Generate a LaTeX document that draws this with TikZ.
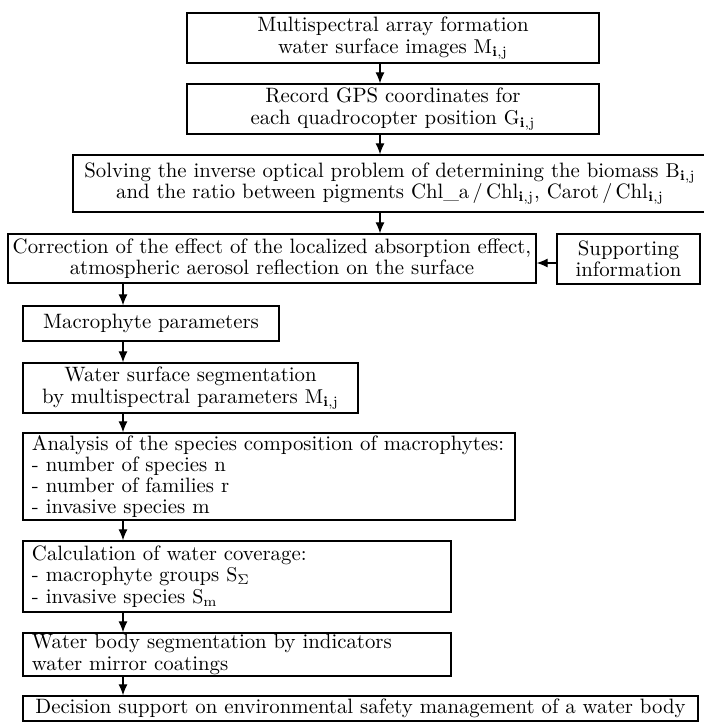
\documentclass[tikz,border=0pt]{standalone}
\usetikzlibrary{arrows.meta}

\tikzset{
  blk/.style={draw,line width=0.7pt,inner sep=0pt,align=center,
    font=\fontsize{10.4}{10.6}\selectfont},
  lblk/.style={blk,align=left,inner xsep=4.5pt},
  arr/.style={-{Latex[length=5.5pt,width=4.5pt]},line width=0.55pt}
}
\newcommand{\idxij}{_{\mathbf{i},\mathrm{j}}}

\begin{document}
\begin{tikzpicture}[x=0.5pt,y=-0.5pt]
\useasboundingbox (0,0) rectangle (704,723);
% arrow columns
\coordinate (colA) at (380,0);
\coordinate (colB) at (123,0);
% Blocks
\node[blk,minimum width=206pt,minimum height=25pt] (b1) at (393,38)
  {Multispectral array formation\\ water surface images $\mathrm{M}\idxij$};
\node[blk,minimum width=206pt,minimum height=25pt] (b2) at (393,109)
  {Record GPS coordinates for\\ each quadrocopter position $\mathrm{G}\idxij$};
\node[blk,minimum width=317pt,minimum height=28.5pt] (b3) at (390,183.5)
  {Solving the inverse optical problem of determining the biomass $\mathrm{B}\idxij$\\
   and the ratio between pigments Chl\_a$\,/\,$Chl$\idxij$, Carot$\,/\,$Chl$\idxij$};
\node[blk,minimum width=264pt,minimum height=24.5pt] (b4) at (272,258.5)
  {Correction of the effect of the localized absorption effect,\\
   atmospheric aerosol reflection on the surface};
\node[blk,minimum width=71.5pt,minimum height=25pt] (sup) at (628.5,259)
  {Supporting\\ information};
\node[blk,minimum width=128pt,minimum height=17.5pt] (b5) at (151,323.5)
  {Macrophyte parameters};
\node[blk,minimum width=167.5pt,minimum height=25pt] (b6) at (190.5,388)
  {Water surface segmentation\\ by multispectral parameters $\mathrm{M}\idxij$};
\node[lblk,text width=237pt,minimum height=43.5pt] (b7) at (269,476.5)
  {Analysis of the species composition of macrophytes:\\
   - number of species n\\ - number of families r\\ - invasive species m};
\node[lblk,text width=205pt,minimum height=35.5pt] (b8) at (237,576.5)
  {Calculation of water coverage:\\
   - macrophyte groups $\mathrm{S}_\Sigma$\\ - invasive species $\mathrm{S_m}$};
\node[lblk,text width=205pt,minimum height=21.5pt] (b9) at (237,654.5)
  {Water body segmentation by indicators\\ water mirror coatings};
\node[blk,minimum width=337.5pt,minimum height=12.5pt] (b10) at (360.5,708.5)
  {Decision support on environmental safety management of a water body};
% Connections
\draw[arr] (b1.south -| colA) -- (b2.north -| colA);
\draw[arr] (b2.south -| colA) -- (b3.north -| colA);
\draw[arr] (b3.south -| colA) -- (b4.north -| colA);
\draw[arr] ([yshift=-2pt]sup.west) -- ([yshift=-2pt]sup.west -| b4.east);
\draw[arr] (b4.south -| colB) -- (b5.north -| colB);
\draw[arr] (b5.south -| colB) -- (b6.north -| colB);
\draw[arr] (b6.south -| colB) -- (b7.north -| colB);
\draw[arr] (b7.south -| colB) -- (b8.north -| colB);
\draw[arr] (b8.south -| colB) -- (b9.north -| colB);
\draw[arr] (b9.south -| colB) -- (b10.north -| colB);
\end{tikzpicture}
\end{document}
